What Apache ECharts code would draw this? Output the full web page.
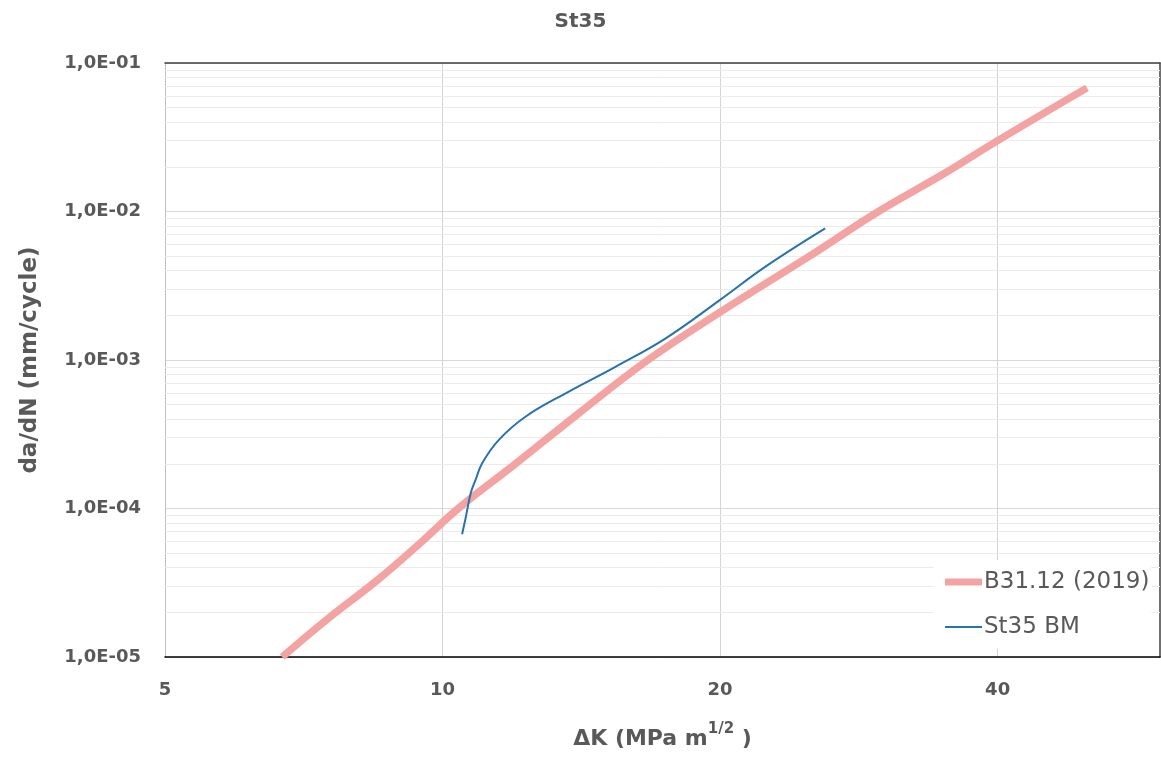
<!DOCTYPE html>
<html>
<head>
<meta charset="utf-8">
<title>St35</title>
<script src="https://cdn.jsdelivr.net/npm/echarts@6/dist/echarts.min.js"></script>
<style>
  html, body { margin: 0; padding: 0; background: #fff; }
  #chart { width: 1161px; height: 758px; }
</style>
</head>
<body>
<div id="chart"></div>
<script>
// B31.12 (2019) reference curve
var b31K = [6.7, 7.5, 8.5, 9.5, 10.4, 12, 14, 16.7, 20, 25, 29.7, 35, 40, 50]
var b31Rate = [1.0e-5, 1.8e-5, 3.3e-5, 6.0e-5, 1.0e-4, 2.0e-4, 4.3e-4, 1.0e-3, 2.1e-3, 5.0e-3, 1.0e-2, 1.8e-2, 3.0e-2, 6.8e-2]

// St35 BM measured curve
var bmK = [10.5, 10.6, 10.73, 10.86, 11.04, 11.51, 12.3, 13.6, 15.4, 17.46, 20, 22.4, 26.0]
var bmRate = [6.7e-5, 8.8e-5, 1.27e-4, 1.56e-4, 2.02e-4, 2.9e-4, 4.15e-4, 5.97e-4, 9.0e-4, 1.40e-3, 2.54e-3, 4.25e-3, 7.69e-3]

// axis ticks
var xTicks = [5, 10, 20, 40]
var yDecades = [1e-5, 1e-4, 1e-3, 1e-2]
var yMinorSteps = [2, 3, 4, 5, 6, 7, 8, 9]

var labelColor = '#595959'
var pink = '#f4a3a3'
var blue = '#2872b0'
var fontName = 'DejaVu Sans'

function pairs(xs, ys) {
  return xs.map(function (x, i) { return [x, ys[i]] })
}

// minor horizontal gridlines (2..9 inside every decade)
var minorLines = []
yDecades.forEach(function (d) {
  yMinorSteps.forEach(function (m) {
    minorLines.push({ yAxis: +(d * m).toPrecision(3) })
  })
})

var myChart = echarts.init(document.getElementById('chart'))

var option = {
  animation: false,
  backgroundColor: '#fff',
  title: {
    text: 'St35',
    left: 'center',
    top: 7,
    textStyle: { fontFamily: fontName, fontSize: 20, fontWeight: 'bold', color: labelColor }
  },
  grid: { left: 165, right: 1, top: 63, bottom: 101 },
  legend: {
    orient: 'vertical',
    left: 934,
    top: 560,
    z: 10,
    padding: [8, 2, 8, 11],
    backgroundColor: '#fff',
    itemWidth: 37,
    itemHeight: 14,
    itemGap: 17,
    textStyle: { fontFamily: fontName, fontSize: 23, color: labelColor, lineHeight: 28, padding: [0, 0, 0, -3] },
    data: [
      { name: 'B31.12 (2019)', icon: 'path://M0,0h37v7h-37z', itemStyle: { color: pink } },
      { name: 'St35 BM', icon: 'path://M0,0h37v2h-37z', itemStyle: { color: blue } }
    ]
  },
  xAxis: [{
    type: 'log',
    logBase: 10,
    min: 5,
    max: 60,
    position: 'bottom',
    name: '{a|ΔK (MPa m}{s|1/2}{a| )}',
    nameLocation: 'middle',
    nameGap: 65,
    nameTextStyle: {
      rich: {
        a: { fontFamily: fontName, fontSize: 22, fontWeight: 'bold', color: labelColor, lineHeight: 28, verticalAlign: 'bottom' },
        s: { fontFamily: fontName, fontSize: 15, fontWeight: 'bold', color: labelColor, lineHeight: 24, verticalAlign: 'top' }
      }
    },
    axisLine: { show: true, lineStyle: { color: '#000', width: 1.5 } },
    axisTick: { show: false, customValues: xTicks },
    axisLabel: {
      customValues: xTicks,
      margin: 24,
      fontFamily: fontName, fontSize: 18, fontWeight: 'bold', color: labelColor,
      formatter: function (v) { return String(v) }
    },
    splitLine: { show: true, lineStyle: { color: '#d4d4d4', width: 1 } },
    minorSplitLine: { show: false }
  }, {
    type: 'log',
    min: 5,
    max: 60,
    position: 'top',
    axisLine: { show: true, lineStyle: { color: '#404040', width: 1.5 } },
    axisTick: { show: false },
    axisLabel: { show: false },
    splitLine: { show: false }
  }],
  yAxis: [{
    type: 'log',
    logBase: 10,
    min: 1e-5,
    max: 1e-1,
    interval: 1,
    position: 'left',
    name: 'da/dN (mm/cycle)',
    nameLocation: 'middle',
    nameGap: 123,
    nameTextStyle: { fontFamily: fontName, fontSize: 23, fontWeight: 'bold', color: labelColor },
    axisLine: { show: true, lineStyle: { color: '#bfbfbf', width: 1 } },
    axisTick: { show: false },
    axisLabel: {
      margin: 24,
      fontFamily: fontName, fontSize: 18, fontWeight: 'bold', color: labelColor,
      formatter: function (v) {
        var e = Math.round(Math.log10(v))
        return '1,0E-' + String(-e).padStart(2, '0')
      }
    },
    splitLine: { show: true, lineStyle: { color: '#d9d9d9', width: 1 } }
  }, {
    type: 'log',
    min: 1e-5,
    max: 1e-1,
    position: 'right',
    axisLine: { show: true, lineStyle: { color: '#404040', width: 1.5 } },
    axisTick: { show: false },
    axisLabel: { show: false },
    splitLine: { show: false }
  }],
  series: [{
    type: 'line',
    z: 1,
    silent: true,
    data: [],
    markLine: {
      silent: true,
      z: 1,
      precision: 12,
      symbol: ['none', 'none'],
      label: { show: false },
      lineStyle: { color: '#ebebeb', width: 1, type: 'solid' },
      emphasis: { disabled: true },
      data: minorLines
    }
  }, {
    name: 'B31.12 (2019)',
    type: 'line',
    z: 3,
    smooth: 0.4,
    showSymbol: false,
    symbol: 'none',
    lineStyle: { color: pink, width: 7.5 },
    itemStyle: { color: pink },
    data: pairs(b31K, b31Rate)
  }, {
    name: 'St35 BM',
    type: 'line',
    z: 4,
    smooth: 0.4,
    showSymbol: false,
    symbol: 'none',
    lineStyle: { color: blue, width: 2 },
    itemStyle: { color: blue },
    data: pairs(bmK, bmRate)
  }]
}

myChart.setOption(option)
window.addEventListener('resize', function () {
  myChart.resize()
})
</script>
</body>
</html>
